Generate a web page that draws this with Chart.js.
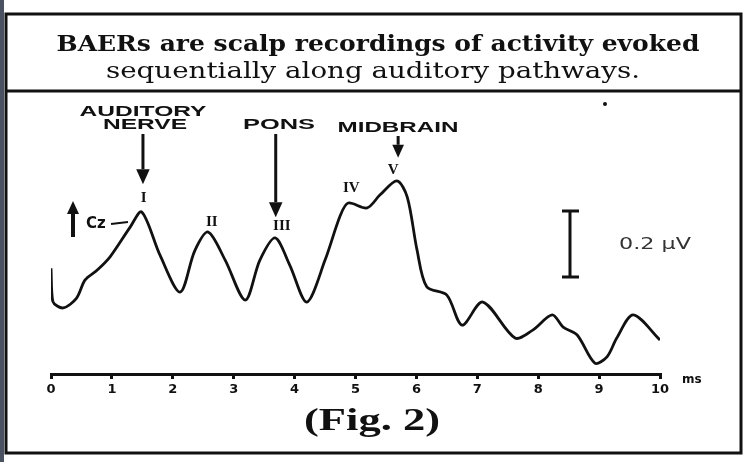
<!DOCTYPE html>
<html>
<head>
<meta charset="utf-8">
<script src="https://cdn.jsdelivr.net/npm/chart.js@4.4.1/dist/chart.umd.min.js"></script>
<style>
  html, body { margin: 0; padding: 0; background: #fff; }
  #wrap { width: 749px; height: 462px; }
</style>
</head>
<body>
<div id="wrap"><canvas id="c" width="749" height="462"></canvas></div>
<script>
// BAER trace (latency in ms, amplitude in uV above the axis)
const latencyMs = [0.0, 0.03, 0.2, 0.42, 0.56, 0.76, 0.97, 1.3, 1.49, 1.79, 2.12, 2.36, 2.58, 2.86, 3.19,
  3.43, 3.68, 3.92, 4.2, 4.5, 4.75, 4.88, 5.19, 5.4, 5.68, 5.85, 6.01, 6.17, 6.5, 6.75, 7.09, 7.62,
  7.91, 8.23, 8.41, 8.64, 8.93, 9.13, 9.29, 9.56, 10.0];
const amplitudeUv = [0.32, 0.22, 0.2, 0.23, 0.285, 0.315, 0.355, 0.445, 0.491, 0.36, 0.248, 0.373, 0.43, 0.345, 0.224,
  0.345, 0.412, 0.33, 0.218, 0.345, 0.48, 0.518, 0.503, 0.542, 0.585, 0.536, 0.376, 0.264, 0.239, 0.148, 0.218, 0.109,
  0.133, 0.179, 0.142, 0.118, 0.033, 0.052, 0.109, 0.179, 0.103];

const tickLabels = ["0", "1", "2", "3", "4", "5", "6", "7", "8", "9", "10"];

// wave labels
const peakNames = ["I", "II", "III", "IV", "V"];
const peakLabelMs = [1.52, 2.64, 3.79, 4.93, 5.62];
const peakLabelUv = [0.533, 0.461, 0.448, 0.564, 0.618];

// generator sites with their arrows
const siteNames = [["AUDITORY", "NERVE"], ["PONS"], ["MIDBRAIN"]];
const siteArrowMs = [1.51, 3.69, 5.70];
const siteArrowTipUv = [0.575, 0.475, 0.655];

const titleLines = ["BAERs are scalp recordings of activity evoked", "sequentially along auditory pathways."];

function fitText(ctx, text, cx, cy, width) {
  const w = ctx.measureText(text).width;
  ctx.save();
  ctx.translate(cx, cy);
  ctx.scale(width / w, 1);
  ctx.fillText(text, 0, 0);
  ctx.restore();
}

function downArrow(ctx, x, y0, y1, head, lw) {
  ctx.lineWidth = lw;
  ctx.beginPath();
  ctx.moveTo(x, y0);
  ctx.lineTo(x, y1 - head);
  ctx.stroke();
  ctx.beginPath();
  ctx.moveTo(x, y1);
  ctx.lineTo(x - head * 0.45, y1 - head);
  ctx.lineTo(x + head * 0.45, y1 - head);
  ctx.closePath();
  ctx.fill();
}

const figurePlugin = {
  id: "figure",
  beforeDraw(chart) {
    const ctx = chart.ctx;
    ctx.save();
    ctx.fillStyle = "#fff";
    ctx.fillRect(0, 0, chart.width, chart.height);
    ctx.fillStyle = "#4a5160";
    ctx.fillRect(0, 0, 4, 462);
    ctx.restore();
  },
  afterDraw(chart) {
    const ctx = chart.ctx;
    const xs = chart.scales.x;
    const ys = chart.scales.y;
    ctx.save();
    ctx.strokeStyle = "#111";
    ctx.fillStyle = "#111";

    // frame + title box
    ctx.lineWidth = 3;
    ctx.strokeRect(6, 14, 735, 439);
    ctx.beginPath();
    ctx.moveTo(6, 91);
    ctx.lineTo(741, 91);
    ctx.stroke();

    ctx.textAlign = "center";
    ctx.textBaseline = "middle";
    ctx.font = "bold 22px 'DejaVu Serif'";
    fitText(ctx, titleLines[0], 378, 45, 643);
    ctx.font = "22px 'DejaVu Serif'";
    fitText(ctx, titleLines[1], 373, 72, 534);

    // site names and arrows
    ctx.font = "bold 14px 'Liberation Sans'";
    fitText(ctx, siteNames[0][0], 143, 112, 127);
    fitText(ctx, siteNames[0][1], 145, 125, 84);
    fitText(ctx, siteNames[1][0], 279, 125, 72);
    fitText(ctx, siteNames[2][0], 398, 128, 121);
    const arrowTops = [134, 134, 136];
    siteArrowMs.forEach((ms, i) => {
      const head = i === 2 ? 13 : 15;
      downArrow(ctx, xs.getPixelForValue(ms), arrowTops[i], ys.getPixelForValue(siteArrowTipUv[i]), head, 3);
    });

    // roman numerals
    ctx.font = "bold 15px 'Liberation Serif'";
    peakNames.forEach((n, i) => {
      ctx.fillText(n, xs.getPixelForValue(peakLabelMs[i]), ys.getPixelForValue(peakLabelUv[i]));
    });

    // Cz polarity arrow
    ctx.lineWidth = 4;
    ctx.beginPath();
    ctx.moveTo(73, 237);
    ctx.lineTo(73, 212);
    ctx.stroke();
    ctx.beginPath();
    ctx.moveTo(73, 201);
    ctx.lineTo(67, 214);
    ctx.lineTo(79, 214);
    ctx.closePath();
    ctx.fill();
    ctx.font = "bold 15px 'DejaVu Sans'";
    ctx.textAlign = "left";
    ctx.fillText("Cz", 86, 224);
    ctx.lineWidth = 2;
    ctx.beginPath();
    ctx.moveTo(111, 224);
    ctx.lineTo(128, 222);
    ctx.stroke();

    // calibration bar
    ctx.lineWidth = 3;
    ctx.beginPath();
    ctx.moveTo(570, 211); ctx.lineTo(570, 277);
    ctx.moveTo(562, 211); ctx.lineTo(579, 211);
    ctx.moveTo(562, 277); ctx.lineTo(579, 277);
    ctx.stroke();
    ctx.fillStyle = "#333";
    ctx.font = "15px 'DejaVu Sans'";
    fitText(ctx, "0.2 \u03bcV", 619, 245, 72);

    // speck and unit
    ctx.fillStyle = "#111";
    ctx.beginPath();
    ctx.arc(605, 104, 2, 0, Math.PI * 2);
    ctx.fill();
    ctx.font = "bold 12px 'DejaVu Sans'";
    ctx.textAlign = "left";
    ctx.fillText("ms", 682, 380);

    // figure caption
    ctx.textAlign = "center";
    ctx.font = "bold 32px 'Liberation Serif'";
    fitText(ctx, "(Fig. 2)", 372, 422, 136);
    ctx.restore();
  }
};

new Chart(document.getElementById("c"), {
  type: "line",
  data: {
    datasets: [{
      data: latencyMs.map((x, i) => ({ x: x, y: amplitudeUv[i] })),
      borderColor: "#111",
      borderWidth: 2.8,
      pointRadius: 0,
      tension: 0.3,
      fill: false
    }]
  },
  options: {
    responsive: false,
    animation: false,
    devicePixelRatio: 1,
    layout: { padding: { top: 100, left: 51, right: 89, bottom: 48 } },
    plugins: { legend: { display: false }, tooltip: { enabled: false } },
    scales: {
      x: {
        type: "linear",
        min: 0,
        max: 10,
        afterFit(scale) { scale.height = 40; },
        border: { display: true, color: "#111", width: 3 },
        grid: { drawOnChartArea: false, drawTicks: true, tickLength: 5, color: "#111", lineWidth: 3 },
        ticks: {
          stepSize: 1,
          padding: 3,
          color: "#111",
          font: { family: "'DejaVu Sans'", size: 13, weight: "bold" },
          callback: (v) => tickLabels[v]
        }
      },
      y: { display: false, min: 0, max: 0.83 }
    }
  },
  plugins: [figurePlugin]
});
</script>
</body>
</html>
